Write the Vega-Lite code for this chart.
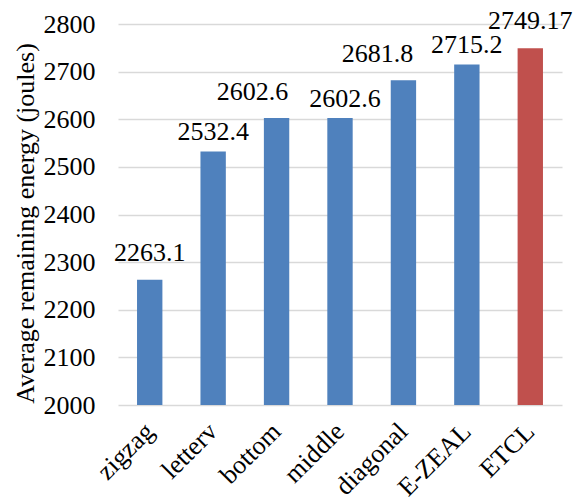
{
  "$schema": "https://vega.github.io/schema/vega-lite/v6.json",
  "width": 444,
  "height": 381,
  "autosize": "none",
  "padding": {"left": 118, "top": 24, "right": 15, "bottom": 96},
  "background": "white",
  "config": {
    "view": {"stroke": null},
    "font": "Liberation Serif",
    "axis": {
      "labelFont": "Liberation Serif",
      "titleFont": "Liberation Serif",
      "labelColor": "#000000",
      "titleColor": "#000000",
      "labelFontSize": 26,
      "titleFontSize": 26,
      "titleFontWeight": "normal"
    },
    "text": {"font": "Liberation Serif", "fontSize": 26, "color": "#000000", "baseline": "alphabetic"}
  },
  "data": {
    "values": [
      {"method": "zigzag", "energy": 2263.1, "label": "2263.1", "group": "other"},
      {"method": "letterv", "energy": 2532.4, "label": "2532.4", "group": "other"},
      {"method": "bottom", "energy": 2602.6, "label": "2602.6", "group": "other"},
      {"method": "middle", "energy": 2602.6, "label": "2602.6", "group": "other"},
      {"method": "diagonal", "energy": 2681.8, "label": "2681.8", "group": "other"},
      {"method": "E-ZEAL", "energy": 2715.2, "label": "2715.2", "group": "other"},
      {"method": "ETCL", "energy": 2749.17, "label": "2749.17", "group": "ETCL"}
    ]
  },
  "encoding": {
    "x": {
      "field": "method",
      "type": "nominal",
      "sort": null,
      "scale": {"paddingInner": 0.6, "paddingOuter": 0.3},
      "axis": {
        "title": null,
        "labelAngle": -45,
        "labelAlign": "right",
        "labelBaseline": "middle",
        "labelPadding": 22,
        "ticks": false,
        "domain": false,
        "grid": false
      }
    },
    "y": {
      "field": "energy",
      "type": "quantitative",
      "scale": {"domain": [2000, 2800], "zero": false, "nice": false},
      "axis": {
        "title": "Average remaining energy (joules)",
        "values": [2000, 2100, 2200, 2300, 2400, 2500, 2600, 2700, 2800],
        "format": "d",
        "ticks": false,
        "domain": false,
        "grid": true,
        "gridColor": "#D9D9D9",
        "gridWidth": 1.5,
        "labelPadding": 23,
        "titlePadding": 5,
        "titleY": 199
      }
    }
  },
  "layer": [
    {
      "mark": {"type": "bar"},
      "encoding": {
        "y2": {"datum": 2000},
        "color": {
          "field": "group",
          "type": "nominal",
          "scale": {"domain": ["other", "ETCL"], "range": ["#4F81BD", "#C0504D"]},
          "legend": null
        }
      }
    },
    {
      "transform": [{"filter": {"field": "method", "oneOf": ["zigzag", "ETCL"]}}],
      "mark": {"type": "text", "dy": -19},
      "encoding": {"text": {"field": "label"}}
    },
    {
      "transform": [{"filter": {"field": "method", "oneOf": ["letterv", "E-ZEAL"]}}],
      "mark": {"type": "text", "dy": -11},
      "encoding": {"text": {"field": "label"}}
    },
    {
      "transform": [{"filter": {"field": "method", "equal": "bottom"}}],
      "mark": {"type": "text", "dy": -18, "dx": -24},
      "encoding": {"text": {"field": "label"}}
    },
    {
      "transform": [{"filter": {"field": "method", "equal": "middle"}}],
      "mark": {"type": "text", "dy": -11, "dx": 5},
      "encoding": {"text": {"field": "label"}}
    },
    {
      "transform": [{"filter": {"field": "method", "equal": "diagonal"}}],
      "mark": {"type": "text", "dy": -18, "dx": -26},
      "encoding": {"text": {"field": "label"}}
    }
  ]
}
